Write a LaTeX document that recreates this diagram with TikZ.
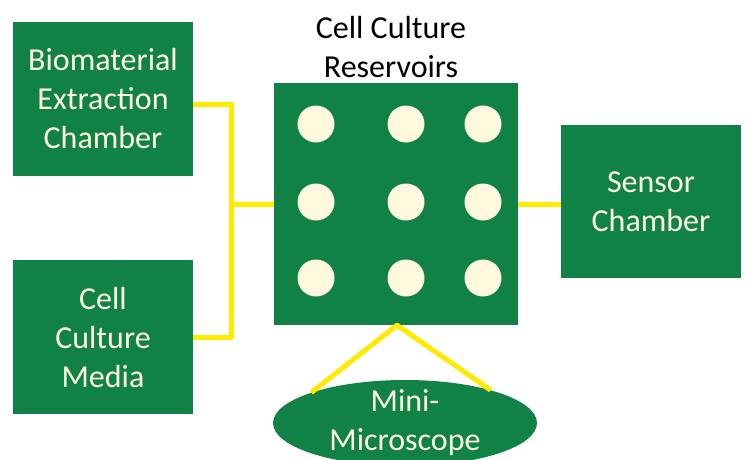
\documentclass[tikz,border=0pt]{standalone}
\usepackage{fontspec}
\setmainfont{Carlito}
\usetikzlibrary{shapes.geometric}
\definecolor{boxgreen}{RGB}{17,130,70}
\definecolor{cream}{RGB}{255,249,222}
\definecolor{wireyellow}{RGB}{255,234,0}
\tikzset{
  gbox/.style={rectangle, fill=boxgreen, text=cream, align=center, inner sep=0pt,
    font=\fontsize{32}{39}\selectfont},
  wire/.style={draw=wireyellow, line width=5pt, line join=round},
  well/.style={circle, fill=cream, minimum size=37pt, inner sep=0pt},
  lbl/.style={align=center, text=black, font=\fontsize{32}{39}\selectfont},
  mmtext/.style={align=center, text=cream, inner sep=0pt, font=\fontsize{32}{39}\selectfont}
}
\begin{document}
\begin{tikzpicture}[x=1pt,y=-1pt]
\clip (0,0) rectangle (747,459);
\fill[white] (0,0) rectangle (747,459);
% nodes
\node[gbox, minimum width=180pt, minimum height=154pt] (b1) at (103,99) {Biomaterial\\Extraction\\Chamber};
\node[gbox, minimum width=180pt, minimum height=154pt] (b2) at (103,337) {Cell\\Culture\\Media};
\node[gbox, minimum width=244pt, minimum height=242pt] (res) at (396,204) {};
\node[gbox, minimum width=180pt, minimum height=153pt] (sens) at (651,201.5) {Sensor\\Chamber};
\node[lbl] (title) at (391,47) {Cell Culture\\Reservoirs};
\node[ellipse, fill=boxgreen, inner sep=0pt, minimum width=264pt, minimum height=86pt] (mm) at (405,423) {};
\node[mmtext] (mmlabel) at (mm.center) {Mini-\\Microscope};
% wells
\foreach \x/\c in {316/1,406/2,483/3}
  \foreach \y/\r in {124/1,202/2,278/3}
    \node[well] (w\r\c) at (\x,\y) {};
% connectors
\coordinate (j) at (231,204);
\draw[wire] ([yshift=-5pt]b1.east) -| (j) |- (b2.east);
\draw[wire] (j) -- (res.west);
\draw[wire] (res.east) -- (res.east -| sens.west);
\draw[wire] (mm.162) -- ([xshift=1pt]res.south) -- (mm.21);
\end{tikzpicture}
\end{document}
